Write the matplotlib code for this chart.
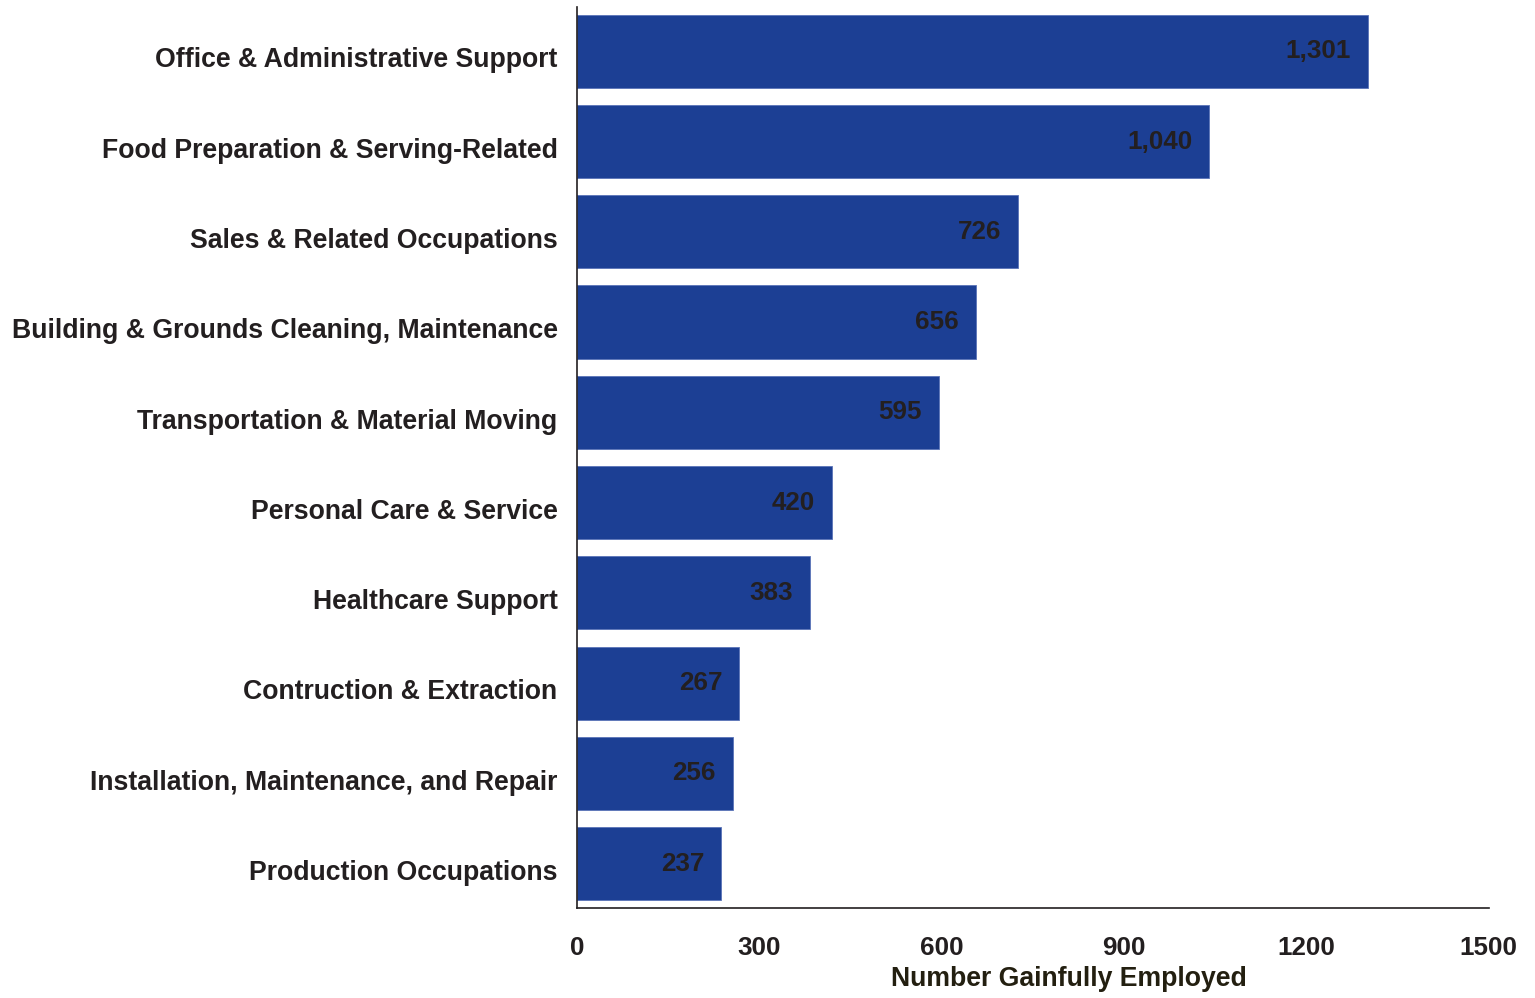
import matplotlib
matplotlib.use("Agg")
import matplotlib.pyplot as plt
from matplotlib.transforms import ScaledTranslation

categories = [
    "Office & Administrative Support",
    "Food Preparation & Serving-Related",
    "Sales & Related Occupations",
    "Building & Grounds Cleaning, Maintenance",
    "Transportation & Material Moving",
    "Personal Care & Service",
    "Healthcare Support",
    "Contruction & Extraction",
    "Installation, Maintenance, and Repair",
    "Production Occupations",
]
employed = [1301, 1040, 726, 656, 595, 420, 383, 267, 256, 237]
x_ticks = [0, 300, 600, 900, 1200, 1500]

plt.rcParams["font.family"] = ["Liberation Sans", "DejaVu Sans"]
plt.rcParams["font.weight"] = "bold"

fig = plt.figure(figsize=(15.35, 9.98), dpi=100)
ax = fig.add_axes([0.3759, 0.0902, 0.594, 0.9028])

bar_color = "#1c3f94"
positions = list(range(len(categories)))
ax.barh(positions, employed, height=0.81, color=bar_color, edgecolor="#5a74b8", linewidth=0.6)

for y, v in zip(positions, employed):
    ax.text(v - 28, y, f"{v:,}", ha="right", va="center", fontsize=18.7,
            fontweight="bold", color="#231f20")

ax.set_ylim(len(categories) - 0.51, -0.49)
ax.set_xlim(0, 1500)
ax.set_yticks(positions)
ax.set_yticklabels(categories, fontsize=19.2, fontweight="bold", color="#231f20")
ax.set_xticks(x_ticks)
ax.set_xticklabels([str(t) for t in x_ticks], fontsize=18.7, fontweight="bold", color="#231f20")
ax.tick_params(axis="both", length=0)
ax.tick_params(axis="y", pad=14)
ax.tick_params(axis="x", pad=20)

# nudge category labels slightly below the bar centres
shift = ScaledTranslation(0, -4.5 / 72, fig.dpi_scale_trans)
for lbl in ax.get_yticklabels():
    lbl.set_transform(lbl.get_transform() + shift)

ax.set_xlabel("Number Gainfully Employed", fontsize=19.2, fontweight="bold", color="#231f10",
              va="center")
ax.xaxis.set_label_coords(0.54, -0.079)

for side in ["top", "right"]:
    ax.spines[side].set_visible(False)
for side in ["left", "bottom"]:
    ax.spines[side].set_color("#231f20")
    ax.spines[side].set_linewidth(1.2)

fig.savefig("out.png", dpi=100, facecolor="white")
